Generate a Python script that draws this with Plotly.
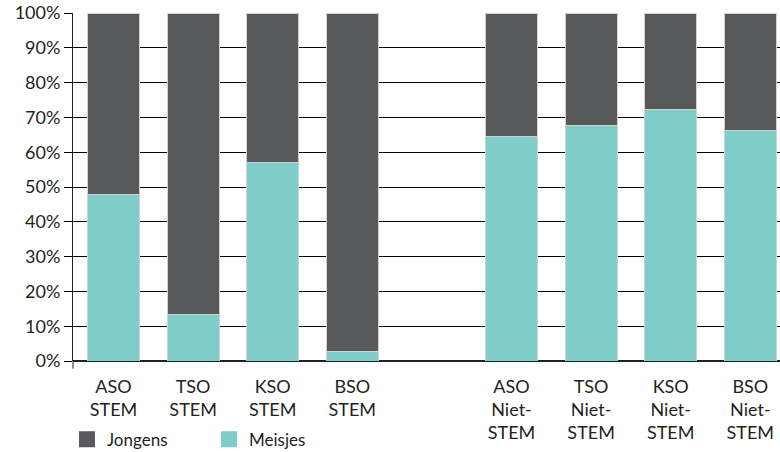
import plotly.graph_objects as go

# Share of girls (Meisjes) per education form, in percent; boys make up the rest
categories = ["ASO<br>STEM", "TSO<br>STEM", "KSO<br>STEM", "BSO<br>STEM", " ",
              "ASO<br>Niet-<br>STEM", "TSO<br>Niet-<br>STEM", "KSO<br>Niet-<br>STEM", "BSO<br>Niet-<br>STEM"]
bar_categories = [c for c in categories if c.strip()]
meisjes = [47.8, 13.3, 57.1, 2.7, 64.5, 67.7, 72.2, 66.3]
jongens = [round(100 - v, 1) for v in meisjes]
y_ticks = list(range(0, 101, 10))
y_labels = [f"{v}%" for v in y_ticks]

DARK = "#58595b"
TEAL = "#7ecdc8"
TEXT = "#231f20"
FONT = "Lato, 'Open Sans', sans-serif"

fig = go.Figure()
fig.add_trace(go.Bar(x=bar_categories, y=meisjes, name="Meisjes", marker_color=TEAL,
                     marker_line=dict(color="#d2d2d2", width=1), showlegend=False))
fig.add_trace(go.Bar(x=bar_categories, y=jongens, name="Jongens", marker_color=DARK,
                     marker_line=dict(color="#d2d2d2", width=1), showlegend=False))

# Legend entries as large square swatches
for name, col in [("Jongens", DARK), ("Meisjes", TEAL)]:
    fig.add_trace(go.Scatter(x=[None], y=[None], mode="markers", name=name,
                             marker=dict(symbol="square", size=16, color=col)))

fig.update_layout(
    width=780, height=452,
    margin=dict(l=73, r=0, t=13, b=91),
    barmode="stack", bargap=0.347,
    plot_bgcolor="white", paper_bgcolor="white",
    font=dict(family=FONT, size=18, color=TEXT),
    legend=dict(orientation="h", x=-0.0085, xanchor="left",
                yref="container", y=0.027, yanchor="middle",
                entrywidth=97, entrywidthmode="pixels", itemsizing="trace",
                font=dict(size=17), bgcolor="rgba(0,0,0,0)", traceorder="normal"),
    xaxis=dict(type="category", categoryorder="array", categoryarray=categories,
               range=[-0.509, 8.373], showgrid=False, showline=False,
               ticks="outside", ticklen=9, tickcolor="rgba(0,0,0,0)",
               tickfont=dict(size=18), automargin=False, fixedrange=True),
    yaxis=dict(range=[0, 100], tickmode="array", tickvals=y_ticks, ticktext=y_labels,
               showgrid=True, gridcolor="#000000", gridwidth=1,
               zeroline=True, zerolinecolor="#222", zerolinewidth=2,
               showline=True, linecolor="#222", linewidth=1,
               ticks="outside", ticklen=8, tickcolor="#000", tickwidth=1,
               tickfont=dict(size=18), automargin=False, fixedrange=True),
    shapes=[dict(type="line", xref="paper", yref="paper", x0=0, x1=0, y0=0, y1=-0.022,
                 line=dict(color="#222", width=1))],
)

fig.write_html("out.html")
